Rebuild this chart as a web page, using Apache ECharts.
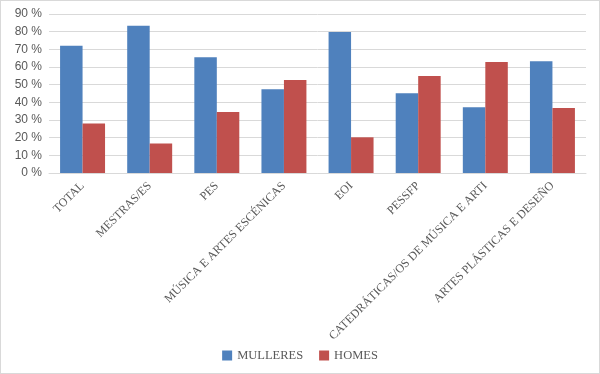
<!DOCTYPE html>
<html><head><meta charset="utf-8">
<script src="https://cdn.jsdelivr.net/npm/echarts@6/dist/echarts.min.js"></script>
<style>html,body{margin:0;padding:0;background:#fff}#c{width:600px;height:374px;box-sizing:border-box;border:1px solid #d9d9d9}</style>
</head><body><div id="c"></div>
<script>
const categories = ['TOTAL','MESTRAS/ES','PES','MÚSICA E ARTES ESCÉNICAS','EOI','PESSFP','CATEDRÁTICAS/OS DE MÚSICA E ARTI','ARTES PLÁSTICAS E DESEÑO'];
const mulleres = [72, 83.3, 65.5, 47.4, 79.8, 45.1, 37.2, 63.2];
const homes = [28, 16.7, 34.5, 52.6, 20.2, 54.9, 62.8, 36.8];
const chart = echarts.init(document.getElementById('c'));
chart.setOption({
  animation:false,
  textStyle:{fontFamily:'Liberation Serif'},
  grid:{left:48,right:13,top:13,bottom:200,containLabel:false},
  legend:{top:343,left:'center',itemWidth:10,itemHeight:10,itemGap:16,icon:'rect',
    formatter:function(n){return '{t|'+n+'}';},
    textStyle:{fontFamily:'Liberation Serif',fontSize:12.5,color:'#595959',
      rich:{t:{fontFamily:'Liberation Serif',fontSize:12.5,color:'#595959'}}},
    data:['MULLERES','HOMES']},
  xAxis:{type:'category',data:categories,
    axisLine:{lineStyle:{color:'#d9d9d9'}},axisTick:{show:false},
    axisLabel:{rotate:45,interval:0,margin:11,fontFamily:'Liberation Serif',fontSize:12,color:'#595959'}},
  yAxis:{type:'value',min:0,max:90,interval:10,
    axisLabel:{formatter:'{value} %',fontFamily:'Liberation Sans',fontSize:12,color:'#595959',margin:7},
    splitLine:{lineStyle:{color:'#d9d9d9'}},axisLine:{show:false},axisTick:{show:false}},
  series:[
    {name:'MULLERES',type:'bar',data:mulleres,itemStyle:{color:'#4f81bd'},barGap:'0%',barCategoryGap:'33%'},
    {name:'HOMES',type:'bar',data:homes,itemStyle:{color:'#c0504d'}}
  ]
});
</script></body></html>
